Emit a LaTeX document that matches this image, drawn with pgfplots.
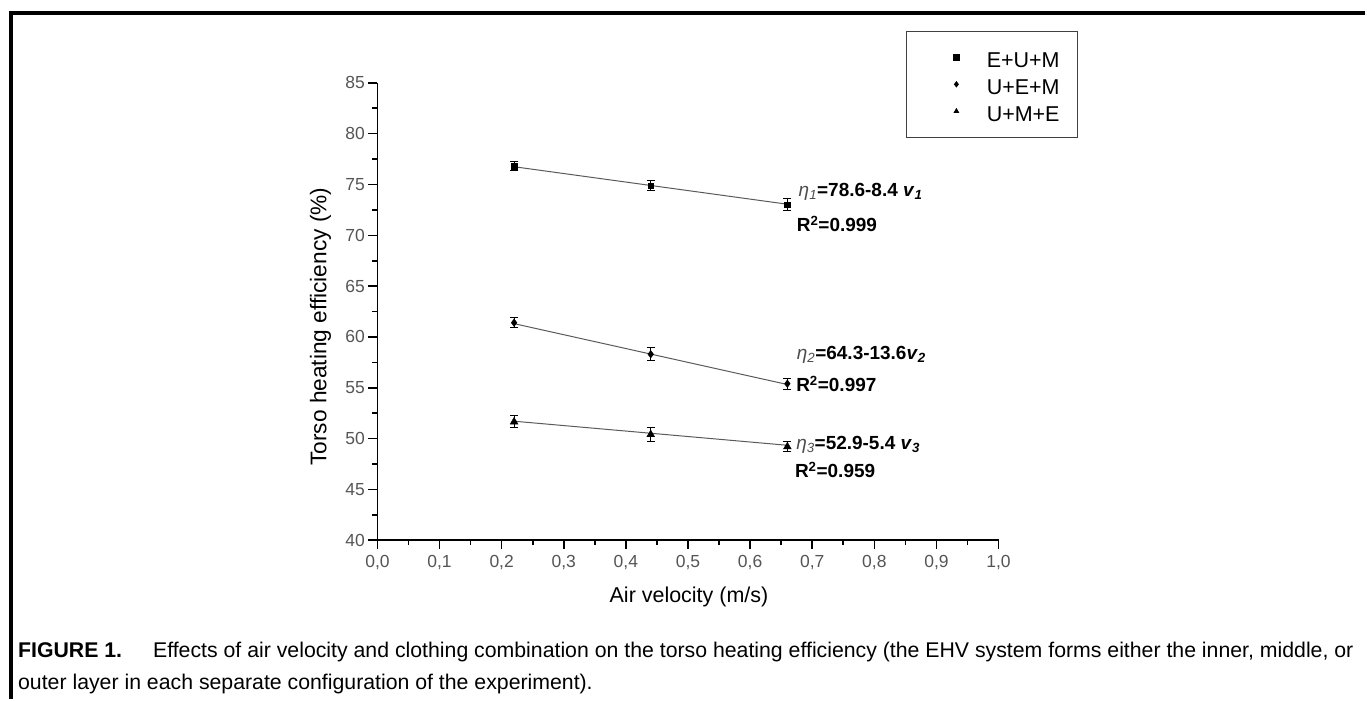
\documentclass[border=0pt]{standalone}
\usepackage{fontspec}
\setmainfont{Liberation Sans}
\usepackage{pgfplots}
\usepackage{pgfplotstable}
\pgfplotsset{compat=1.18}

\definecolor{ticktext}{RGB}{85,85,85}
\definecolor{fitgray}{RGB}{90,90,90}

% x = air velocity, y = efficiency, e = error
\pgfplotstableread{
x y e
0.22 76.8 0.45
0.44 74.9 0.5
0.66 73.0 0.6
}\eum
\pgfplotstableread{
x y e
0.22 61.4 0.5
0.44 58.3 0.65
0.66 55.4 0.55
}\uem
\pgfplotstableread{
x y e
0.22 51.65 0.6
0.44 50.4 0.7
0.66 49.2 0.5
}\ume

\begin{document}
\begin{tikzpicture}
\begin{axis}[
  at={(0pt,0pt)}, anchor=south west,
  scale only axis,
  width=622pt, height=458pt,
  xmin=0, xmax=1, ymin=40, ymax=85,
  axis lines=left,
  axis line style={-, line width=1.6pt, black},
  xtick={0,0.1,0.2,0.3,0.4,0.5,0.6,0.7,0.8,0.9,1.0},
  ytick={40,45,50,55,60,65,70,75,80,85},
  minor x tick num=1, minor y tick num=1,
  tick align=outside,
  major tick length=9pt, minor tick length=5pt,
  every tick/.style={line width=1.6pt, black},
  tick label style={font=\fontsize{17.5}{20}\selectfont, text=ticktext},
  /pgf/number format/assume math mode=true,
  xticklabel style={yshift=-3pt, /pgf/number format/.cd, use comma, fixed, fixed zerofill, precision=1},
  yticklabel style={/pgf/number format/.cd, fixed, precision=0},
  xlabel={Air velocity (m/s)},
  ylabel={Torso heating efficiency (\%)},
  every axis x label/.style={at={(axis description cs:0.5016,0)}, anchor=center, yshift=-57pt, font=\fontsize{21.5}{25}\selectfont},
  every axis y label/.style={at={(axis description cs:-0.0916,0.467)}, rotate=90, anchor=center, font=\fontsize{22.7}{26}\selectfont},
  legend style={
    at={(axis description cs:0.8505,1.1135)}, anchor=north west,
    draw=black!75, line width=0.8pt,
    font=\fontsize{21.5}{24}\selectfont,
    inner xsep=18pt, inner ysep=12.5pt, row sep=0pt, column sep=0pt,
    nodes={inner sep=0pt, text height=24pt, text depth=3pt},
    cells={anchor=west},
  },
  legend image code/.code={\path (0pt,0pt) (62pt,0pt); \draw[#1, mark size=2.6pt] plot coordinates {(32pt,0pt)};},
  error bars/error bar style={black, line width=0.9pt},
  error bars/error mark options={rotate=90, black, mark size=4pt, line width=0.9pt},
]
\addplot[black, only marks, mark=square*, mark size=2.8pt,
  error bars/.cd, y dir=both, y explicit]
  table[x=x, y=y, y error=e] {\eum};
\addlegendentry{E+U+M}
\addplot[black, only marks, mark=diamond*, mark size=3.8pt,
  error bars/.cd, y dir=both, y explicit]
  table[x=x, y=y, y error=e] {\uem};
\addlegendentry{U+E+M}
\addplot[black, only marks, mark=triangle*, mark size=4.5pt,
  error bars/.cd, y dir=both, y explicit]
  table[x=x, y=y, y error=e] {\ume};
\addlegendentry{U+M+E}

% fitted lines
\addplot[fitgray, line width=1pt, forget plot] coordinates {(0.22,76.75) (0.66,73.06)};
\addplot[fitgray, line width=1pt, forget plot] coordinates {(0.22,61.31) (0.66,55.32)};
\addplot[fitgray, line width=1pt, forget plot] coordinates {(0.22,51.71) (0.66,49.34)};

\node[anchor=base west, inner sep=0pt, font=\fontsize{19}{22}\selectfont\bfseries] at (axis cs:0.678,73.81)
  {\textcolor{black!70}{\mdseries\textit{η}\textsubscript{\textit{1}}}=78.6-8.4 \textit{v}\textsubscript{\textit{1}}};
\node[anchor=base west, inner sep=0pt, font=\fontsize{19}{22}\selectfont\bfseries] at (axis cs:0.675,70.33)
  {R\textsuperscript{2}=0.999};
\node[anchor=base west, inner sep=0pt, font=\fontsize{19}{22}\selectfont\bfseries] at (axis cs:0.675,57.8)
  {\textcolor{black!70}{\mdseries\textit{η}\textsubscript{\textit{2}}}=64.3-13.6\textit{v}\textsubscript{\textit{2}}};
\node[anchor=base west, inner sep=0pt, font=\fontsize{19}{22}\selectfont\bfseries] at (axis cs:0.674,54.63)
  {R\textsuperscript{2}=0.997};
\node[anchor=base west, inner sep=0pt, font=\fontsize{19}{22}\selectfont\bfseries] at (axis cs:0.674,48.93)
  {\textcolor{black!70}{\mdseries\textit{η}\textsubscript{\textit{3}}}=52.9-5.4 \textit{v}\textsubscript{\textit{3}}};
\node[anchor=base west, inner sep=0pt, font=\fontsize{19}{22}\selectfont\bfseries] at (axis cs:0.672,46.13)
  {R\textsuperscript{2}=0.959};
\end{axis}

% frame and caption
\draw[line width=4pt, black] (-367pt,-159pt) -- (-367pt,528pt) -- (989pt,528pt);
\node[anchor=base west, inner sep=0pt, font=\fontsize{21.3}{24}\selectfont] at (-360pt,-117pt)
  {\textbf{FIGURE 1.}\hspace{31pt}Effects of air velocity and clothing combination on the torso heating efficiency (the EHV system forms either the inner, middle, or};
\node[anchor=base west, inner sep=0pt, font=\fontsize{21.3}{24}\selectfont] at (-360pt,-150pt)
  {outer layer in each separate configuration of the experiment).};
\path[use as bounding box] (-378pt,-159pt) rectangle (989pt,541pt);
\end{tikzpicture}
\end{document}
